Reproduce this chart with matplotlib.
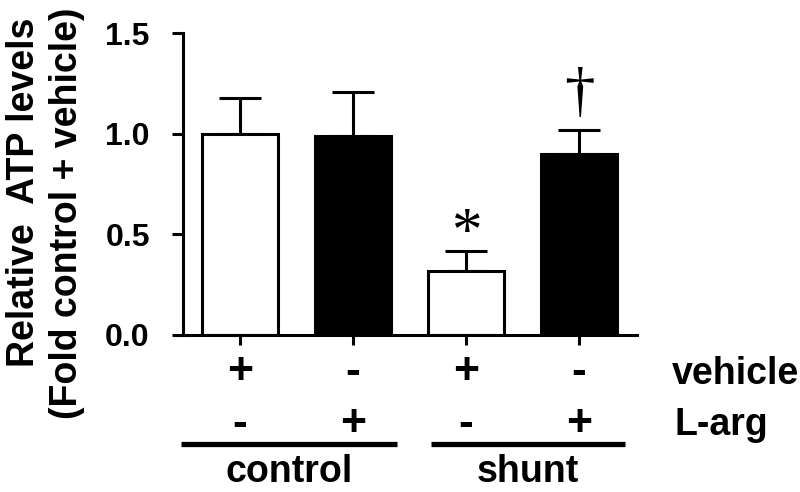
import matplotlib
matplotlib.use('Agg')
import matplotlib.pyplot as plt

# data
groups = ['control', 'shunt']
vehicle = ['+', '-', '+', '-']
l_arg = ['-', '+', '-', '+']
atp_mean = [1.00, 0.99, 0.317, 0.90]
atp_err = [0.18, 0.22, 0.10, 0.12]
bar_colors = ['white', 'black', 'white', 'black']
marks = ['', '', '*', '\u2020']

plt.rcParams['font.family'] = ['Liberation Sans', 'DejaVu Sans']
plt.rcParams['font.weight'] = 'bold'


def main():
    fig = plt.figure(figsize=(8, 4.92), dpi=100)
    ax = fig.add_axes([0.229, 0.320, 0.567, 0.612])

    x = list(range(len(atp_mean)))
    ax.bar(x, atp_mean, width=0.67, color=bar_colors, edgecolor='black',
           linewidth=2.2, zorder=2)
    ax.errorbar(x, atp_mean, yerr=[[0] * len(atp_err), atp_err], fmt='none',
                ecolor='black', elinewidth=2.2, capsize=15, capthick=2.2, zorder=1)

    # significance marks above the error bars (gap in data units)
    mark_gap = {'*': 0.085, '\u2020': 0.17}
    for xi, m, e, s in zip(x, atp_mean, atp_err, marks):
        if s:
            ax.text(xi, m + e + mark_gap[s], s, ha='center', va='center',
                    fontsize=44, family='Liberation Serif', fontweight='normal')

    ax.set_xlim(-0.5, 3.51)
    ax.set_ylim(0, 1.5)
    ax.set_yticks([0, 0.5, 1.0, 1.5])
    ax.set_yticklabels(['0.0', '0.5', '1.0', '1.5'])
    ax.set_xticks(x)
    ax.set_xticklabels([])
    ax.tick_params(axis='y', direction='out', length=8, width=2.2, pad=16,
                   labelsize=23)
    ax.tick_params(axis='x', direction='out', length=7, width=2.2)
    for side in ['top', 'right']:
        ax.spines[side].set_visible(False)
    for side in ['left', 'bottom']:
        ax.spines[side].set_linewidth(2.2)

    # y label, two lines
    fig.text(6 / 800, 1 - 192 / 492, 'Relative  ATP levels', rotation=90,
             ha='left', va='center', fontsize=27, fontweight='bold')
    fig.text(49 / 800, 1 - 213 / 492, '(Fold control + vehicle)', rotation=90,
             ha='left', va='center', fontsize=27, fontweight='bold')

    # treatment table under the axis
    tr = ax.get_xaxis_transform()
    for xi, v, la in zip(x, vehicle, l_arg):
        ax.text(xi, -0.125, v, transform=tr, ha='center', va='center',
                fontsize=32, fontweight='bold', clip_on=False)
        ax.text(xi, -0.300, la, transform=tr, ha='center', va='center',
                fontsize=32, fontweight='bold', clip_on=False)
    fig.text(0.84, 1 - 374 / 492, 'vehicle', ha='left', va='center',
             fontsize=27, fontweight='bold')
    fig.text(0.843, 1 - 425 / 492, 'L-arg', ha='left', va='center',
             fontsize=27, fontweight='bold')

    spans = [(-0.52, 1.39), (1.69, 3.41)]
    for (a, b), g in zip(spans, groups):
        ax.plot([a, b], [-0.364, -0.364], transform=tr, color='black',
                linewidth=3.8, clip_on=False, solid_capstyle='butt')
        ax.text((a + b) / 2, -0.455, g, transform=tr, ha='center', va='center',
                fontsize=27, fontweight='bold', clip_on=False)

    fig.savefig('out.png', dpi=100)


if __name__ == '__main__':
    main()
